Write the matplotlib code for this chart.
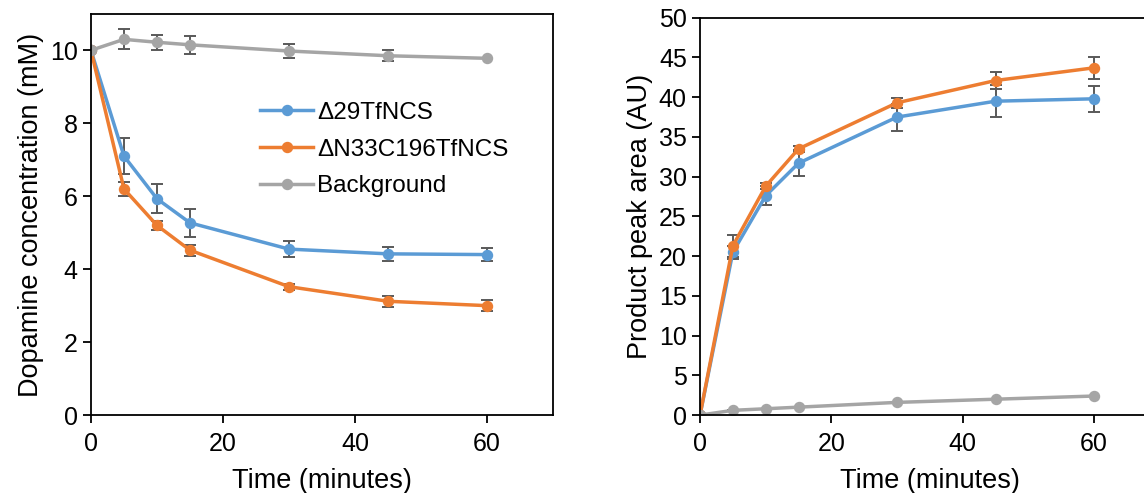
import matplotlib.pyplot as plt

plt.rcParams["font.family"] = ["Liberation Sans", "DejaVu Sans"]

time_min = [0, 5, 10, 15, 30, 45, 60]

# left panel: dopamine concentration (mM)
dop_d29 = [10.0, 7.1, 5.93, 5.27, 4.55, 4.42, 4.4]
dop_d29_err = [0.0, 0.5, 0.4, 0.38, 0.22, 0.2, 0.17]
dop_n33 = [10.0, 6.2, 5.2, 4.52, 3.52, 3.12, 3.0]
dop_n33_err = [0.0, 0.2, 0.12, 0.15, 0.08, 0.15, 0.15]
dop_bg = [10.0, 10.3, 10.22, 10.15, 9.98, 9.85, 9.78]
dop_bg_err = [0.0, 0.27, 0.2, 0.25, 0.18, 0.15, 0.0]

# right panel: product peak area (AU)
prod_d29 = [0.0, 20.5, 27.6, 31.7, 37.5, 39.5, 39.8]
prod_d29_err = [0.0, 0.8, 1.2, 1.6, 1.7, 2.0, 1.6]
prod_n33 = [0.0, 21.3, 28.8, 33.5, 39.3, 42.1, 43.7]
prod_n33_err = [0.0, 1.4, 0.4, 0.4, 0.6, 1.1, 1.4]
prod_bg = [0.0, 0.6, 0.8, 1.0, 1.6, 2.0, 2.4]
prod_bg_err = [0.0, 0.0, 0.0, 0.0, 0.0, 0.0, 0.0]

labels = ["\u039429TfNCS", "\u0394N33C196TfNCS", "Background"]
colors = ["#5B9BD5", "#ED7D31", "#A5A5A5"]
ERR_COLOR = "#595959"
TICK_FS = 18
LABEL_FS = 19.5
LEGEND_FS = 17.5


def draw_series(ax, series, errors):
    for values, err, color, label in zip(series, errors, colors, labels):
        ax.errorbar(
            time_min,
            values,
            yerr=err,
            color=color,
            ecolor=ERR_COLOR,
            elinewidth=1.4,
            capsize=4,
            capthick=1.4,
            linewidth=2.5,
            marker="o",
            markersize=7.2,
            label=label,
        )


def style_axes(ax):
    for spine in ax.spines.values():
        spine.set_linewidth(1.3)
        spine.set_color("black")
    ax.tick_params(direction="out", length=6, width=1.3, labelsize=TICK_FS)
    ax.tick_params(axis="x", pad=6)
    ax.set_xlim(0, 70)
    ax.set_xticks([0, 20, 40, 60])
    ax.set_xlabel("Time (minutes)", fontsize=LABEL_FS, labelpad=9)


fig = plt.figure(figsize=(11.44, 4.93), dpi=100)

ax1 = fig.add_axes([0.0795, 0.158, 0.404, 0.814])
draw_series(ax1, [dop_d29, dop_n33, dop_bg], [dop_d29_err, dop_n33_err, dop_bg_err])
style_axes(ax1)
ax1.set_ylim(0, 11)
ax1.set_yticks([0, 2, 4, 6, 8, 10])
ax1.set_ylabel("Dopamine concentration (mM)", fontsize=LABEL_FS)
handles, leg_labels = ax1.get_legend_handles_labels()
handles = [h[0] for h in handles]
ax1.legend(
    handles,
    leg_labels,
    loc="upper left",
    bbox_to_anchor=(0.318, 0.835),
    frameon=False,
    fontsize=LEGEND_FS,
    handlelength=2.2,
    handletextpad=0.15,
    labelspacing=0.6,
)

ax2 = fig.add_axes([0.6119, 0.158, 0.4018, 0.806])
draw_series(ax2, [prod_d29, prod_n33, prod_bg], [prod_d29_err, prod_n33_err, prod_bg_err])
style_axes(ax2)
ax2.set_ylim(0, 50)
ax2.set_yticks(range(0, 51, 5))
ax2.set_ylabel("Product peak area (AU)", fontsize=LABEL_FS)

fig.savefig("out.png", dpi=100)
